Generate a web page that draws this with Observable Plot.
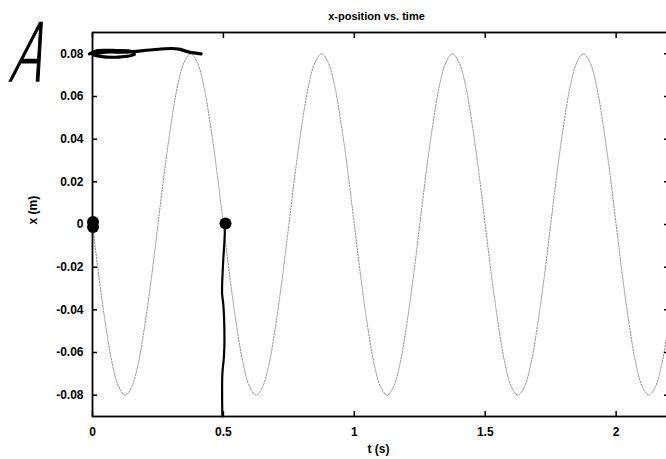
<!DOCTYPE html>
<html>
<head>
<meta charset="utf-8">
<script src="https://cdn.jsdelivr.net/npm/d3@7"></script>
<script src="https://cdn.jsdelivr.net/npm/@observablehq/plot@0.6"></script>
<style>
  html, body { margin: 0; padding: 0; background: #fff; overflow: hidden; }
  #wrap { position: relative; width: 666px; height: 459px; overflow: hidden; }
  #letterA { position: absolute; left: 4px; top: 14px; font-family: "DejaVu Sans"; font-weight: 200; font-size: 80px; line-height: 1; color: #000; -webkit-text-stroke: 1.6px #000; transform: skewX(-16deg) scaleX(0.6); transform-origin: left bottom; }
</style>
</head>
<body>
<div id="wrap"><div id="letterA">A</div></div>
<script>
const times = [0,0.025,0.05,0.075,0.1,0.125,0.15,0.175,0.2,0.225,0.25,0.275,0.3,0.325,0.35,0.375,0.4,0.425,0.45,0.475,
  0.5,0.525,0.55,0.575,0.6,0.625,0.65,0.675,0.7,0.725,0.75,0.775,0.8,0.825,0.85,0.875,0.9,0.925,0.95,0.975,
  1,1.025,1.05,1.075,1.1,1.125,1.15,1.175,1.2,1.225,1.25,1.275,1.3,1.325,1.35,1.375,1.4,1.425,1.45,1.475,
  1.5,1.525,1.55,1.575,1.6,1.625,1.65,1.675,1.7,1.725,1.75,1.775,1.8,1.825,1.85,1.875,1.9,1.925,1.95,1.975,
  2,2.025,2.05,2.075,2.1,2.125,2.15,2.175,2.2];
const positions = [0,-0.025,-0.047,-0.065,-0.076,-0.08,-0.076,-0.065,-0.047,-0.025,0,0.025,0.047,0.065,0.076,0.08,0.076,0.065,0.047,0.025,
  0,-0.025,-0.047,-0.065,-0.076,-0.08,-0.076,-0.065,-0.047,-0.025,0,0.025,0.047,0.065,0.076,0.08,0.076,0.065,0.047,0.025,
  0,-0.025,-0.047,-0.065,-0.076,-0.08,-0.076,-0.065,-0.047,-0.025,0,0.025,0.047,0.065,0.076,0.08,0.076,0.065,0.047,0.025,
  0,-0.025,-0.047,-0.065,-0.076,-0.08,-0.076,-0.065,-0.047,-0.025,0,0.025,0.047,0.065,0.076,0.08,0.076,0.065,0.047,0.025,
  0,-0.025,-0.047,-0.065,-0.076,-0.08,-0.076,-0.065,-0.047];

// Tick values
const xTicks = [0, 0.5, 1, 1.5, 2];
const yTicks = [-0.08, -0.06, -0.04, -0.02, 0, 0.02, 0.04, 0.06, 0.08];

// Hand-drawn annotations (in data units)
const scribbleT = [-0.012,0.02,0.09,0.15,0.16,0.10,0.03,0.0,0.05,0.13,0.22,0.30,0.33,0.37,0.415];
const scribbleX = [0.0800,0.0815,0.0815,0.0810,0.0798,0.0785,0.0788,0.0797,0.0808,0.0808,0.0818,0.0825,0.0822,0.0808,0.0800];
const strokeT = [0.506,0.504,0.498,0.495,0.5,0.504,0.502,0.496,0.496];
const strokeX = [-0.002,-0.0075,-0.02,-0.0323,-0.038,-0.054,-0.062,-0.070,-0.09];
const blobT = [0.002, 0.002, 0.508];
const blobX = [0.0012, -0.0012, 0.0005];

const curve = times.map((t, i) => ({t, x: positions[i]}));
const scribble = scribbleT.map((t, i) => ({t, x: scribbleX[i]}));
const vstroke = strokeT.map((t, i) => ({t, x: strokeX[i]}));
const blobs = blobT.map((t, i) => ({t, x: blobX[i]}));

const chart = Plot.plot({
  width: 668,
  height: 459,
  marginLeft: 92,
  marginRight: 0,
  marginTop: 32,
  marginBottom: 43,
  style: {fontFamily: "'Liberation Sans', Arial, sans-serif", fontSize: "12px", fontWeight: "bold", maxWidth: "none", background: "#fff", color: "#000"},
  x: {domain: [0, 2.2]},
  y: {domain: [-0.09, 0.09]},
  marks: [
    Plot.line(curve, {x: "t", y: "x", stroke: "#8a8a8a", strokeWidth: 1, strokeDasharray: "1.5,1.5", curve: "catmull-rom"}),
    Plot.frame({stroke: "#000", strokeWidth: 1.8}),
    Plot.axisY({anchor: "left", ticks: yTicks, tickSize: -5, tickPadding: 14, strokeWidth: 1.5, tickFormat: d => d === 0 ? "0" : d.toFixed(2), label: null}),
    Plot.axisY({anchor: "right", ticks: yTicks, tickSize: -5, text: null, strokeWidth: 1.5, label: null}),
    Plot.axisX({anchor: "bottom", ticks: xTicks, tickSize: -5, tickPadding: 16, strokeWidth: 1.5, tickFormat: d => String(d), label: null}),
    Plot.axisX({anchor: "top", ticks: xTicks, tickSize: -5, text: null, strokeWidth: 1.5, label: null}),
    Plot.text(["x-position vs. time"], {frameAnchor: "top", dy: -20, dx: -4, fill: "#000", fontSize: 11}),
    Plot.text(["t (s)"], {frameAnchor: "bottom", dy: 36, dx: -2, fill: "#000"}),
    Plot.text(["x (m)"], {frameAnchor: "left", dx: -59, rotate: -90, fill: "#000"}),
    Plot.line(scribble, {x: "t", y: "x", stroke: "#000", strokeWidth: 3.2, curve: "catmull-rom"}),
    Plot.line(vstroke, {x: "t", y: "x", stroke: "#000", strokeWidth: 2.2, curve: "catmull-rom"}),
    Plot.dot(blobs, {x: "t", y: "x", r: 6, fill: "#000", stroke: "none"})
  ]
});
document.getElementById("wrap").prepend(chart);
</script>
</body>
</html>
